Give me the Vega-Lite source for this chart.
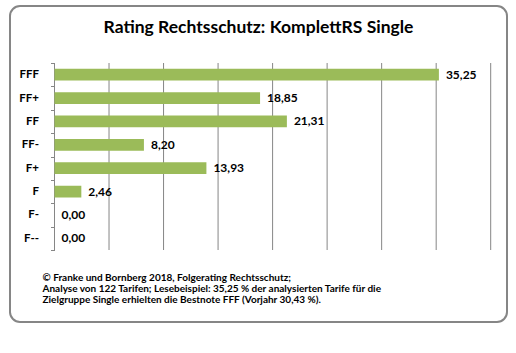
{
  "$schema": "https://vega.github.io/schema/vega-lite/v6.json",
  "width": 497,
  "height": 316,
  "autosize": "none",
  "padding": {"left": 10, "top": 6, "right": 9, "bottom": 31},
  "background": "white",
  "config": {
    "view": {"stroke": "#868686", "strokeWidth": 2, "cornerRadius": 10},
    "font": "Lato"
  },
  "title": {
    "text": "Rating Rechtsschutz: KomplettRS Single",
    "font": "Lato",
    "fontSize": 17.5,
    "fontWeight": "bold",
    "color": "#000000",
    "anchor": "middle",
    "frame": "group",
    "baseline": "alphabetic",
    "offset": -50
  },
  "datasets": {
    "ratings": [
      {"rating": "FFF", "value": 35.25, "label": "35,25"},
      {"rating": "FF+", "value": 18.85, "label": "18,85"},
      {"rating": "FF", "value": 21.31, "label": "21,31"},
      {"rating": "FF-", "value": 8.20, "label": "8,20"},
      {"rating": "F+", "value": 13.93, "label": "13,93"},
      {"rating": "F", "value": 2.46, "label": "2,46"},
      {"rating": "F-", "value": 0.00, "label": "0,00"},
      {"rating": "F--", "value": 0.00, "label": "0,00"}
    ],
    "grid": [
      {"v": 0}, {"v": 5}, {"v": 10}, {"v": 15}, {"v": 20},
      {"v": 25}, {"v": 30}, {"v": 35}, {"v": 40}
    ]
  },
  "layer": [
    {
      "data": {"name": "grid"},
      "mark": {"type": "rule", "color": "#868686", "strokeWidth": 1},
      "encoding": {
        "x": {
          "field": "v",
          "type": "quantitative",
          "scale": {"domain": [-4.081, 41.495], "nice": false, "zero": false},
          "axis": {
            "orient": "bottom",
            "offset": -72,
            "labels": false,
            "ticks": false,
            "domain": false,
            "grid": false,
            "title": [
              "© Franke und Bornberg 2018, Folgerating Rechtsschutz;",
              "Analyse von 122 Tarifen; Lesebeispiel: 35,25 % der analysierten Tarife für die",
              "Zielgruppe Single erhielten die Bestnote FFF (Vorjahr 30,43 %)."
            ],
            "titleFont": "Lato",
            "titleFontSize": 10,
            "titleFontWeight": "bold",
            "titleColor": "#000000",
            "titleAnchor": "start",
            "titleAlign": "left",
            "titleBaseline": "alphabetic",
            "titleLineHeight": 11,
            "titleX": 32,
            "titleY": 30
          }
        },
        "y": {"datum": "FFF", "type": "nominal", "bandPosition": 0},
        "y2": {"datum": "F--", "bandPosition": 1}
      }
    },
    {
      "data": {"name": "ratings"},
      "mark": {"type": "bar", "color": "#9BBB59", "height": {"band": 0.5}},
      "encoding": {
        "y": {
          "field": "rating",
          "type": "nominal",
          "sort": null,
          "scale": {
            "domain": ["FFF", "FF+", "FF", "FF-", "F+", "F", "F-", "F--"],
            "range": [57, 244],
            "paddingInner": 0,
            "paddingOuter": 0
          },
          "axis": {
            "orient": "left",
            "offset": -44.5,
            "domain": false,
            "grid": false,
            "ticks": true,
            "tickBand": "extent",
            "tickSize": 4,
            "tickColor": "#868686",
            "labelFont": "Lato",
            "labelFontSize": 11.5,
            "labelFontWeight": "bold",
            "labelColor": "#000000",
            "labelPadding": 12,
            "title": null
          }
        },
        "x": {"field": "value", "type": "quantitative"}
      }
    },
    {
      "data": {"name": "ratings"},
      "mark": {"type": "text", "align": "left", "baseline": "middle", "dx": 7, "font": "Lato", "fontSize": 12, "fontWeight": "bold", "color": "#000000"},
      "encoding": {
        "y": {"field": "rating", "type": "nominal", "sort": null},
        "x": {"field": "value", "type": "quantitative"},
        "text": {"field": "label"}
      }
    }
  ]
}
